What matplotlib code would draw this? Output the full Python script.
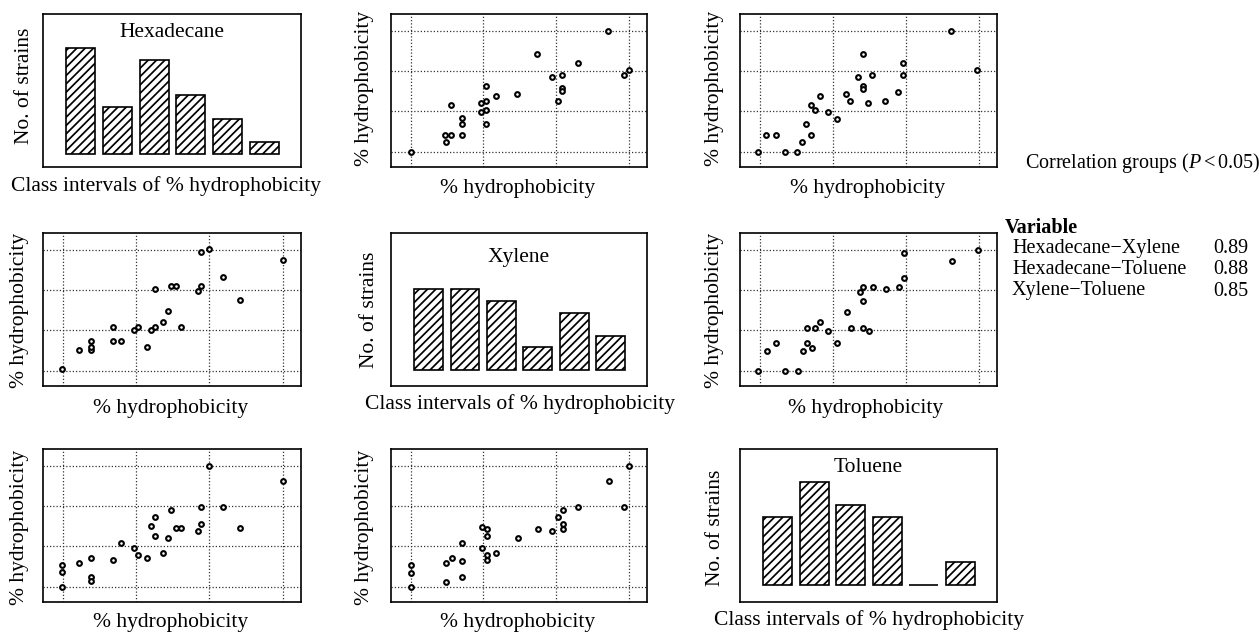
import matplotlib
matplotlib.use("Agg")
import matplotlib.pyplot as plt
import numpy as np

plt.rcParams['font.family'] = ['Liberation Serif', 'DejaVu Serif']
plt.rcParams['mathtext.fontset'] = 'custom'
plt.rcParams['mathtext.rm'] = 'Liberation Serif'
plt.rcParams['mathtext.it'] = 'Liberation Serif:italic'
plt.rcParams['hatch.linewidth'] = 1.25

# ---------------- data ----------------
hist_classes = [1, 2, 3, 4, 5, 6]
hexadecane_counts = [9, 4, 8, 5, 3, 1]
xylene_counts = [7, 7, 6, 2, 5, 3]
toluene_counts = [6, 9, 7, 6, 0, 2]

# scatter panels (values in grid units of % hydrophobicity)
p12_x = [0, 0.47, 0.56, 0.48, 0.70, 0.70, 0.70, 0.56, 0.97, 0.97, 1.04, 1.04, 1.04, 1.04,
         1.18, 1.46, 1.74, 1.95, 2.02, 2.08, 2.08, 2.08, 2.30, 2.72, 2.93, 3.0]
p12_y = [0, 0.42, 0.42, 0.24, 0.42, 0.70, 0.83, 1.16, 0.98, 1.21, 1.04, 1.27, 1.62, 0.70,
         1.39, 1.44, 2.43, 1.86, 1.26, 1.91, 1.57, 1.50, 2.20, 3.0, 1.91, 2.02]

p13_x = [-0.02, 0.09, 0.22, 0.34, 0.51, 0.58, 0.64, 0.70, 0.70, 0.76, 0.82, 0.94, 1.06, 1.18,
         1.24, 1.35, 1.42, 1.42, 1.42, 1.48, 1.54, 1.72, 1.90, 1.96, 1.96, 2.62, 2.98]
p13_y = [0, 0.41, 0.41, 0, 0, 0.23, 0.70, 0.41, 1.15, 1.04, 1.39, 0.98, 0.82, 1.44,
         1.26, 1.85, 2.43, 1.62, 1.56, 1.20, 1.91, 1.26, 1.49, 1.91, 2.20, 3.0, 2.02]

p21_x = [-0.01, 0.22, 0.39, 0.39, 0.39, 0.68, 0.68, 0.80, 0.97, 1.03, 1.15, 1.20, 1.26, 1.26,
         1.37, 1.43, 1.48, 1.55, 1.61, 1.84, 1.89, 1.89, 2.0, 2.19, 2.42, 3.0]
p21_y = [0.04, 0.52, 0.52, 0.59, 0.74, 0.74, 1.08, 0.74, 1.0, 1.08, 0.60, 1.0, 1.08, 2.03,
         1.22, 1.49, 2.11, 2.11, 1.08, 1.98, 2.11, 2.94, 3.02, 2.32, 1.76, 2.74]

p23_x = [-0.02, 0.10, 0.22, 0.34, 0.52, 0.59, 0.65, 0.65, 0.71, 0.76, 0.83, 0.94, 1.06, 1.19,
         1.25, 1.37, 1.42, 1.42, 1.42, 1.49, 1.55, 1.73, 1.91, 1.97, 1.97, 2.63, 2.99]
p23_y = [0, 0.48, 0.69, 0, 0, 0.48, 0.69, 1.05, 0.57, 1.05, 1.20, 0.98, 0.69, 1.46,
         1.05, 1.96, 2.09, 1.74, 1.05, 0.98, 2.09, 2.02, 2.09, 2.31, 2.93, 2.73, 3.0]

p31_x = [-0.01, -0.01, -0.01, 0.22, 0.39, 0.39, 0.39, 0.68, 0.80, 0.97, 1.03, 1.15, 1.20, 1.26,
         1.26, 1.37, 1.43, 1.48, 1.55, 1.61, 1.84, 1.89, 1.89, 2.0, 2.19, 2.42, 3.0]
p31_y = [0, 0.36, 0.55, 0.60, 0.71, 0.24, 0.14, 0.66, 1.09, 0.95, 0.78, 0.71, 1.50, 1.73,
         1.26, 0.84, 1.21, 1.91, 1.45, 1.45, 1.38, 1.55, 1.98, 3.0, 1.98, 1.45, 2.63]

p32_x = [0, 0, 0, 0.48, 0.48, 0.57, 0.70, 0.70, 0.70, 0.98, 0.98, 1.05, 1.05, 1.05,
         1.05, 1.18, 1.47, 1.75, 1.95, 2.03, 2.10, 2.10, 2.10, 2.30, 2.73, 2.93, 3.0]
p32_y = [0, 0.35, 0.53, 0.12, 0.60, 0.71, 0.65, 0.24, 1.08, 0.95, 1.49, 1.44, 1.25, 0.78,
         0.66, 0.84, 1.20, 1.44, 1.38, 1.73, 1.91, 1.55, 1.44, 1.98, 2.63, 1.98, 3.0]

grid_ticks = [0, 1, 2, 3]

legend_title = r"Correlation groups ($P<0.05$)"
legend_header = "Variable"
pair_names = ["Hexadecane\u2212Xylene", "Hexadecane\u2212Toluene", "Xylene\u2212Toluene"]
pair_r = ["0.89", "0.88", "0.85"]

# ---------------- layout ----------------
W, H = 1259, 633
fig = plt.figure(figsize=(W / 100, H / 100), dpi=100)

def box(x0, y0, x1, y1):
    return [x0 / W, 1 - y1 / H, (x1 - x0) / W, (y1 - y0) / H]

def ftext(x, y, s, **kw):
    fig.text(x / W, 1 - y / H, s, **kw)

FS = 15.5
LW = 1.2

def hist_panel(rect, counts, title, ylim, title_y):
    ax = fig.add_axes(rect)
    pos = np.arange(len(counts))
    ax.bar(pos, counts, width=0.79, color='white', edgecolor='black',
           hatch='////', linewidth=LW)
    ax.set_xlim(-1.03, 6.0)
    ax.set_ylim(*ylim)
    ax.set_xticks([])
    ax.set_yticks([])
    for s in ax.spines.values():
        s.set_linewidth(LW)
    ax.text(0.5, title_y, title, transform=ax.transAxes, ha='center', va='center',
            fontsize=FS)
    return ax

def scatter_panel(rect, xs, ys):
    ax = fig.add_axes(rect)
    ax.set_xlim(-0.27, 3.25)
    ax.set_ylim(-0.38, 3.42)
    ax.set_xticks(grid_ticks)
    ax.set_yticks(grid_ticks)
    ax.tick_params(length=0, labelbottom=False, labelleft=False)
    ax.grid(True, color='0.2', linestyle=(0, (1, 1.6)), linewidth=0.9)
    ax.plot(xs, ys, 'o', ms=3.4, mfc='white', mec='black', mew=1.5, zorder=3,
            clip_on=False)
    for s in ax.spines.values():
        s.set_linewidth(LW)
    return ax

C1 = (43, 301)
C2 = (391, 647)
C3 = (740, 997)
R1 = (14, 167)
R2 = (233, 386)
R3 = (449, 602)

hist_panel(box(C1[0], R1[0], C1[1], R1[1]), hexadecane_counts, "Hexadecane", (-1.1, 11.9), 0.88)
scatter_panel(box(C2[0], R1[0], C2[1], R1[1]), p12_x, p12_y)
scatter_panel(box(C3[0], R1[0], C3[1], R1[1]), p13_x, p13_y)

scatter_panel(box(C1[0], R2[0], C1[1], R2[1]), p21_x, p21_y)
hist_panel(box(C2[0], R2[0], C2[1], R2[1]), xylene_counts, "Xylene", (-1.37, 11.9), 0.84)
scatter_panel(box(C3[0], R2[0], C3[1], R2[1]), p23_x, p23_y)

scatter_panel(box(C1[0], R3[0], C1[1], R3[1]), p31_x, p31_y)
scatter_panel(box(C2[0], R3[0], C2[1], R3[1]), p32_x, p32_y)
hist_panel(box(C3[0], R3[0], C3[1], R3[1]), toluene_counts, "Toluene", (-1.46, 11.9), 0.88)

CI = "Class intervals of % hydrophobicity"
PH = "% hydrophobicity"
NS = "No. of strains"

# x labels
ftext(166, 186, CI, ha='center', va='center', fontsize=FS)
ftext(518, 189, PH, ha='center', va='center', fontsize=FS)
ftext(868, 189, PH, ha='center', va='center', fontsize=FS)
ftext(171, 408, PH, ha='center', va='center', fontsize=FS)
ftext(520, 404, CI, ha='center', va='center', fontsize=FS)
ftext(866, 408, PH, ha='center', va='center', fontsize=FS)
ftext(171, 622, PH, ha='center', va='center', fontsize=FS)
ftext(518, 622, PH, ha='center', va='center', fontsize=FS)
ftext(869, 620, CI, ha='center', va='center', fontsize=FS)

# y labels
ftext(25, 86, NS, ha='center', va='center', rotation=90, fontsize=FS)
ftext(364, 88, PH, ha='center', va='center', rotation=90, fontsize=FS)
ftext(714, 88, PH, ha='center', va='center', rotation=90, fontsize=FS)
ftext(20, 310, PH, ha='center', va='center', rotation=90, fontsize=FS)
ftext(369, 310, NS, ha='center', va='center', rotation=90, fontsize=FS)
ftext(714, 310, PH, ha='center', va='center', rotation=90, fontsize=FS)
ftext(20, 527, PH, ha='center', va='center', rotation=90, fontsize=FS)
ftext(364, 527, PH, ha='center', va='center', rotation=90, fontsize=FS)
ftext(716, 528, NS, ha='center', va='center', rotation=90, fontsize=FS)

# legend block
LFS = 14.5
ftext(1025, 163, legend_title, ha='left', va='center', fontsize=LFS)
ftext(1005, 228, legend_header, ha='left', va='center', fontsize=LFS, fontweight='bold')
for i, (n, r) in enumerate(zip(pair_names, pair_r)):
    yy = 249 + 21 * i
    ftext(1012, yy, n, ha='left', va='center', fontsize=LFS)
    ftext(1213, yy, r, ha='left', va='center', fontsize=LFS)

fig.savefig("out.png", dpi=100)
